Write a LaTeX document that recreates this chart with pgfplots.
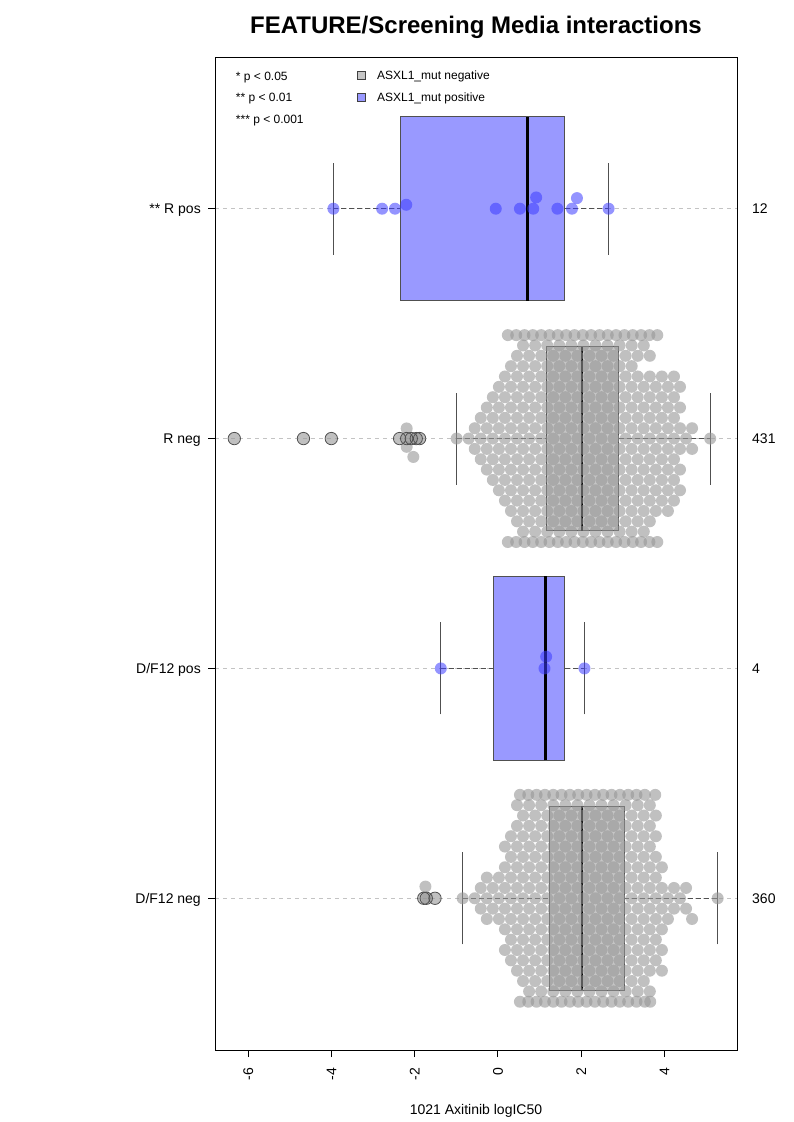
\documentclass[border=0pt]{standalone}
\usepackage{fontspec}
\setmainfont{Liberation Sans}
\usepackage{pgfplots}
\pgfplotsset{compat=1.18}

\definecolor{ptgrey}{RGB}{150,150,150}
\definecolor{boxgrey}{RGB}{198,198,198}
\definecolor{boxblue}{RGB}{153,153,255}
\definecolor{ptblue}{RGB}{60,60,255}
\definecolor{edgegrey}{RGB}{80,80,80}
\definecolor{gridgrey}{RGB}{195,195,195}

\pgfplotsset{
  whisk/.style={edgegrey, line width=0.8pt, dash pattern=on 5pt off 3pt, forget plot},
  cap/.style={edgegrey, line width=0.9pt, forget plot},
  greyswarm/.style={only marks, mark=*, mark size=6pt, mark options={draw=ptgrey, draw opacity=0, fill=ptgrey, fill opacity=0.6}, forget plot},
  blueswarm/.style={only marks, mark=*, mark size=6pt, mark options={draw=ptblue, draw opacity=0, fill=ptblue, fill opacity=0.55}, forget plot},
}

\begin{document}
\begin{tikzpicture}
\path[use as bounding box] (0pt,0pt) rectangle (793pt,1122pt);
\begin{axis}[
  at={(215pt,72pt)}, anchor=south west,
  width=522pt, height=993pt, scale only axis,
  xmin=-6.794, xmax=5.744, ymin=0.34, ymax=4.66,
  clip=false,
  axis line style={black, line width=0.9pt},
  tick pos=left, tick align=outside, major tick length=7pt,
  tick style={black, line width=0.8pt},
  xtick={-6,-4,-2,0,2,4}, xticklabels={-6,-4,-2,0,2,4},
  xticklabel style={yshift=-11pt, rotate=90, anchor=east, inner sep=0pt, text height=10pt, text depth=0pt, font=\fontsize{14}{16}\selectfont},
  ytick={1,2,3,4}, yticklabels={D/F12 neg, D/F12 pos, R neg, ** R pos},
  yticklabel style={anchor=east, inner sep=0pt, xshift=-7pt, text height=10pt, text depth=0pt, font=\fontsize{14}{16}\selectfont},
  ymajorgrids, major grid style={gridgrey, dash pattern=on 4pt off 4pt, line width=0.8pt},
  title={FEATURE/Screening Media interactions},
  title style={font=\fontsize{24}{28}\selectfont\bfseries, at={(axis description cs:0.5,1)}, anchor=base, yshift=17pt},
  xlabel={1021 Axitinib logIC50},
  xlabel style={font=\fontsize{14}{16}\selectfont, at={(axis description cs:0.5,0)}, anchor=base, yshift=-64pt},
  legend style={at={(axis description cs:0.2720,0.9859)}, anchor=north west, draw=none, fill=none,
    inner sep=0pt, outer sep=0pt, row sep=9.7pt, column sep=0pt,
    font=\fontsize{12}{14}\selectfont,
    cells={anchor=base west},
    nodes={inner sep=0pt, text height=9pt, text depth=3pt}},
]
% legend images first
\addlegendimage{legend image code/.code={\draw[fill=boxgrey, draw=black!75, line width=0.8pt] (0pt,0.3pt) rectangle (8pt,8.3pt); \path[draw=none, fill=none] (0pt,4pt) -- (19.7pt,4pt);}}
\addlegendentry{ASXL1\_mut negative}
\addlegendimage{legend image code/.code={\draw[fill=boxblue, draw=black!75, line width=0.8pt] (0pt,0.3pt) rectangle (8pt,8.3pt); \path[draw=none, fill=none] (0pt,4pt) -- (19.7pt,4pt);}}
\addlegendentry{ASXL1\_mut positive}

% ---- whiskers (dashed) and caps ----
% R pos: -3.95 -2.34 0.70 1.61 2.66
\addplot[whisk] coordinates {(-3.95,4) (-2.34,4)};
\addplot[whisk] coordinates {(1.61,4) (2.66,4)};
\addplot[cap] coordinates {(-3.95,3.8) (-3.95,4.2)};
\addplot[cap] coordinates {(2.66,3.8) (2.66,4.2)};
% R neg: -0.99 1.16 2.02 2.90 5.11
\addplot[whisk] coordinates {(-0.99,3) (1.16,3)};
\addplot[whisk] coordinates {(2.90,3) (5.11,3)};
\addplot[cap] coordinates {(-0.99,2.8) (-0.99,3.2)};
\addplot[cap] coordinates {(5.11,2.8) (5.11,3.2)};
% D/F12 pos: -1.37 -0.11 1.15 1.61 2.08
\addplot[whisk] coordinates {(-1.37,2) (-0.11,2)};
\addplot[whisk] coordinates {(1.61,2) (2.08,2)};
\addplot[cap] coordinates {(-1.37,1.8) (-1.37,2.2)};
\addplot[cap] coordinates {(2.08,1.8) (2.08,2.2)};
% D/F12 neg: -0.84 1.24 2.02 3.04 5.28
\addplot[whisk] coordinates {(-0.84,1) (1.24,1)};
\addplot[whisk] coordinates {(3.04,1) (5.28,1)};
\addplot[cap] coordinates {(-0.84,0.8) (-0.84,1.2)};
\addplot[cap] coordinates {(5.28,0.8) (5.28,1.2)};

% ---- boxes ----
\addplot[fill=boxblue, draw=edgegrey, line width=0.8pt, forget plot] coordinates {(-2.34,3.6) (1.61,3.6) (1.61,4.4) (-2.34,4.4)} --cycle;
\addplot[fill=boxgrey, draw=edgegrey, line width=0.8pt, forget plot] coordinates {(1.16,2.6) (2.90,2.6) (2.90,3.4) (1.16,3.4)} --cycle;
\addplot[fill=boxblue, draw=edgegrey, line width=0.8pt, forget plot] coordinates {(-0.11,1.6) (1.61,1.6) (1.61,2.4) (-0.11,2.4)} --cycle;
\addplot[fill=boxgrey, draw=edgegrey, line width=0.8pt, forget plot] coordinates {(1.24,0.6) (3.04,0.6) (3.04,1.4) (1.24,1.4)} --cycle;

% ---- R neg swarm (431) ----
\addplot[greyswarm] coordinates {
(0.24,3.45) (0.44,3.45) (0.64,3.45) (0.84,3.45) (1.04,3.45) (1.24,3.45) (1.44,3.45) (1.64,3.45) (1.84,3.45) (2.04,3.45) (2.24,3.45) (2.44,3.45) (2.64,3.45) (2.84,3.45) (3.04,3.45) (3.24,3.45) (3.44,3.45) (3.64,3.45) (3.83,3.45)
(0.605,3.405) (0.895,3.405) (1.185,3.405) (1.475,3.405) (1.765,3.405) (2.055,3.405) (2.345,3.405) (2.635,3.405) (2.925,3.405) (3.215,3.405) (3.505,3.405)
(0.46,3.36) (0.75,3.36) (1.04,3.36) (1.33,3.36) (1.62,3.36) (1.91,3.36) (2.20,3.36) (2.49,3.36) (2.78,3.36) (3.07,3.36) (3.36,3.36) (3.65,3.36)
(0.315,3.315) (0.605,3.315) (0.895,3.315) (1.185,3.315) (1.475,3.315) (1.765,3.315) (2.055,3.315) (2.345,3.315) (2.635,3.315) (2.925,3.315) (3.215,3.315)
(0.17,3.27) (0.46,3.27) (0.75,3.27) (1.04,3.27) (1.33,3.27) (1.62,3.27) (1.91,3.27) (2.20,3.27) (2.49,3.27) (2.78,3.27) (3.07,3.27) (3.36,3.27) (3.65,3.27) (3.94,3.27) (4.23,3.27)
(0.025,3.225) (0.315,3.225) (0.605,3.225) (0.895,3.225) (1.185,3.225) (1.475,3.225) (1.765,3.225) (2.055,3.225) (2.345,3.225) (2.635,3.225) (2.925,3.225) (3.215,3.225) (3.505,3.225) (3.795,3.225) (4.085,3.225) (4.375,3.225)
(-0.12,3.18) (0.17,3.18) (0.46,3.18) (0.75,3.18) (1.04,3.18) (1.33,3.18) (1.62,3.18) (1.91,3.18) (2.20,3.18) (2.49,3.18) (2.78,3.18) (3.07,3.18) (3.36,3.18) (3.65,3.18) (3.94,3.18) (4.23,3.18)
(-0.265,3.135) (0.025,3.135) (0.315,3.135) (0.605,3.135) (0.895,3.135) (1.185,3.135) (1.475,3.135) (1.765,3.135) (2.055,3.135) (2.345,3.135) (2.635,3.135) (2.925,3.135) (3.215,3.135) (3.505,3.135) (3.795,3.135) (4.085,3.135) (4.375,3.135)
(-0.41,3.09) (-0.12,3.09) (0.17,3.09) (0.46,3.09) (0.75,3.09) (1.04,3.09) (1.33,3.09) (1.62,3.09) (1.91,3.09) (2.20,3.09) (2.49,3.09) (2.78,3.09) (3.07,3.09) (3.36,3.09) (3.65,3.09) (3.94,3.09) (4.23,3.09)
(-0.555,3.045) (-0.265,3.045) (0.025,3.045) (0.315,3.045) (0.605,3.045) (0.895,3.045) (1.185,3.045) (1.475,3.045) (1.765,3.045) (2.055,3.045) (2.345,3.045) (2.635,3.045) (2.925,3.045) (3.215,3.045) (3.505,3.045) (3.795,3.045) (4.085,3.045) (4.375,3.045) (4.665,3.045)
(-0.99,3) (-0.70,3) (-0.41,3) (-0.12,3) (0.17,3) (0.46,3) (0.75,3) (1.04,3) (1.33,3) (1.62,3) (1.91,3) (2.20,3) (2.49,3) (2.78,3) (3.07,3) (3.36,3) (3.65,3) (3.94,3) (4.23,3) (4.52,3) (5.10,3)
(-0.555,2.955) (-0.265,2.955) (0.025,2.955) (0.315,2.955) (0.605,2.955) (0.895,2.955) (1.185,2.955) (1.475,2.955) (1.765,2.955) (2.055,2.955) (2.345,2.955) (2.635,2.955) (2.925,2.955) (3.215,2.955) (3.505,2.955) (3.795,2.955) (4.085,2.955) (4.375,2.955) (4.665,2.955)
(-0.41,2.91) (-0.12,2.91) (0.17,2.91) (0.46,2.91) (0.75,2.91) (1.04,2.91) (1.33,2.91) (1.62,2.91) (1.91,2.91) (2.20,2.91) (2.49,2.91) (2.78,2.91) (3.07,2.91) (3.36,2.91) (3.65,2.91) (3.94,2.91) (4.23,2.91)
(-0.265,2.865) (0.025,2.865) (0.315,2.865) (0.605,2.865) (0.895,2.865) (1.185,2.865) (1.475,2.865) (1.765,2.865) (2.055,2.865) (2.345,2.865) (2.635,2.865) (2.925,2.865) (3.215,2.865) (3.505,2.865) (3.795,2.865) (4.085,2.865) (4.375,2.865)
(-0.12,2.82) (0.17,2.82) (0.46,2.82) (0.75,2.82) (1.04,2.82) (1.33,2.82) (1.62,2.82) (1.91,2.82) (2.20,2.82) (2.49,2.82) (2.78,2.82) (3.07,2.82) (3.36,2.82) (3.65,2.82) (3.94,2.82) (4.23,2.82)
(0.025,2.775) (0.315,2.775) (0.605,2.775) (0.895,2.775) (1.185,2.775) (1.475,2.775) (1.765,2.775) (2.055,2.775) (2.345,2.775) (2.635,2.775) (2.925,2.775) (3.215,2.775) (3.505,2.775) (3.795,2.775) (4.085,2.775) (4.375,2.775)
(0.17,2.73) (0.46,2.73) (0.75,2.73) (1.04,2.73) (1.33,2.73) (1.62,2.73) (1.91,2.73) (2.20,2.73) (2.49,2.73) (2.78,2.73) (3.07,2.73) (3.36,2.73) (3.65,2.73) (3.94,2.73) (4.23,2.73)
(0.315,2.685) (0.605,2.685) (0.895,2.685) (1.185,2.685) (1.475,2.685) (1.765,2.685) (2.055,2.685) (2.345,2.685) (2.635,2.685) (2.925,2.685) (3.215,2.685) (3.505,2.685) (3.795,2.685) (4.085,2.685)
(0.46,2.64) (0.75,2.64) (1.04,2.64) (1.33,2.64) (1.62,2.64) (1.91,2.64) (2.20,2.64) (2.49,2.64) (2.78,2.64) (3.07,2.64) (3.36,2.64) (3.65,2.64)
(0.605,2.595) (0.895,2.595) (1.185,2.595) (1.475,2.595) (1.765,2.595) (2.055,2.595) (2.345,2.595) (2.635,2.595) (2.925,2.595) (3.215,2.595) (3.505,2.595)
(0.24,2.55) (0.44,2.55) (0.64,2.55) (0.84,2.55) (1.04,2.55) (1.24,2.55) (1.44,2.55) (1.64,2.55) (1.84,2.55) (2.04,2.55) (2.24,2.55) (2.44,2.55) (2.64,2.55) (2.84,2.55) (3.04,2.55) (3.24,2.55) (3.44,2.55) (3.64,2.55) (3.83,2.55)
(-6.33,3) (-4.67,3) (-4.00,3) (-2.36,3) (-2.19,3) (-2.08,3) (-1.96,3) (-1.88,3) (-2.19,3.044) (-2.19,2.964) (-2.03,2.92)
};

% ---- D/F12 neg swarm (360) ----
\addplot[greyswarm] coordinates {
(0.53,1.45) (0.73,1.45) (0.93,1.45) (1.13,1.45) (1.33,1.45) (1.53,1.45) (1.73,1.45) (1.93,1.45) (2.13,1.45) (2.33,1.45) (2.53,1.45) (2.73,1.45) (2.93,1.45) (3.13,1.45) (3.33,1.45) (3.53,1.45) (3.78,1.45)
(0.46,1.405) (0.75,1.405) (1.04,1.405) (1.33,1.405) (1.62,1.405) (1.91,1.405) (2.20,1.405) (2.49,1.405) (2.78,1.405) (3.07,1.405) (3.36,1.405) (3.65,1.405)
(0.605,1.36) (0.895,1.36) (1.185,1.36) (1.475,1.36) (1.765,1.36) (2.055,1.36) (2.345,1.36) (2.635,1.36) (2.925,1.36) (3.215,1.36) (3.505,1.36) (3.795,1.36)
(0.46,1.315) (0.75,1.315) (1.04,1.315) (1.33,1.315) (1.62,1.315) (1.91,1.315) (2.20,1.315) (2.49,1.315) (2.78,1.315) (3.07,1.315) (3.36,1.315) (3.65,1.315)
(0.315,1.27) (0.605,1.27) (0.895,1.27) (1.185,1.27) (1.475,1.27) (1.765,1.27) (2.055,1.27) (2.345,1.27) (2.635,1.27) (2.925,1.27) (3.215,1.27) (3.505,1.27) (3.795,1.27)
(0.17,1.225) (0.46,1.225) (0.75,1.225) (1.04,1.225) (1.33,1.225) (1.62,1.225) (1.91,1.225) (2.20,1.225) (2.49,1.225) (2.78,1.225) (3.07,1.225) (3.36,1.225) (3.65,1.225)
(0.315,1.18) (0.605,1.18) (0.895,1.18) (1.185,1.18) (1.475,1.18) (1.765,1.18) (2.055,1.18) (2.345,1.18) (2.635,1.18) (2.925,1.18) (3.215,1.18) (3.505,1.18) (3.795,1.18)
(0.17,1.135) (0.46,1.135) (0.75,1.135) (1.04,1.135) (1.33,1.135) (1.62,1.135) (1.91,1.135) (2.20,1.135) (2.49,1.135) (2.78,1.135) (3.07,1.135) (3.36,1.135) (3.65,1.135) (3.94,1.135)
(-0.265,1.09) (0.025,1.09) (0.315,1.09) (0.605,1.09) (0.895,1.09) (1.185,1.09) (1.475,1.09) (1.765,1.09) (2.055,1.09) (2.345,1.09) (2.635,1.09) (2.925,1.09) (3.215,1.09) (3.505,1.09) (3.795,1.09)
(-0.41,1.045) (-0.12,1.045) (0.17,1.045) (0.46,1.045) (0.75,1.045) (1.04,1.045) (1.33,1.045) (1.62,1.045) (1.91,1.045) (2.20,1.045) (2.49,1.045) (2.78,1.045) (3.07,1.045) (3.36,1.045) (3.65,1.045) (3.94,1.045) (4.23,1.045) (4.52,1.045) (-1.74,1.051)
(-0.845,1) (-0.555,1) (-0.265,1) (0.025,1) (0.315,1) (0.605,1) (0.895,1) (1.185,1) (1.475,1) (1.765,1) (2.055,1) (2.345,1) (2.635,1) (2.925,1) (3.215,1) (3.505,1) (3.795,1) (4.085,1) (4.375,1) (5.28,1) (-1.78,1) (-1.70,1) (-1.51,1)
(-0.41,0.955) (-0.12,0.955) (0.17,0.955) (0.46,0.955) (0.75,0.955) (1.04,0.955) (1.33,0.955) (1.62,0.955) (1.91,0.955) (2.20,0.955) (2.49,0.955) (2.78,0.955) (3.07,0.955) (3.36,0.955) (3.65,0.955) (3.94,0.955) (4.23,0.955) (4.52,0.955)
(-0.265,0.91) (0.025,0.91) (0.315,0.91) (0.605,0.91) (0.895,0.91) (1.185,0.91) (1.475,0.91) (1.765,0.91) (2.055,0.91) (2.345,0.91) (2.635,0.91) (2.925,0.91) (3.215,0.91) (3.505,0.91) (3.795,0.91) (4.085,0.91) (4.665,0.91)
(0.17,0.865) (0.46,0.865) (0.75,0.865) (1.04,0.865) (1.33,0.865) (1.62,0.865) (1.91,0.865) (2.20,0.865) (2.49,0.865) (2.78,0.865) (3.07,0.865) (3.36,0.865) (3.65,0.865) (3.94,0.865)
(0.315,0.82) (0.605,0.82) (0.895,0.82) (1.185,0.82) (1.475,0.82) (1.765,0.82) (2.055,0.82) (2.345,0.82) (2.635,0.82) (2.925,0.82) (3.215,0.82) (3.505,0.82) (3.795,0.82)
(0.17,0.775) (0.46,0.775) (0.75,0.775) (1.04,0.775) (1.33,0.775) (1.62,0.775) (1.91,0.775) (2.20,0.775) (2.49,0.775) (2.78,0.775) (3.07,0.775) (3.36,0.775) (3.65,0.775) (3.94,0.775)
(0.315,0.73) (0.605,0.73) (0.895,0.73) (1.185,0.73) (1.475,0.73) (1.765,0.73) (2.055,0.73) (2.345,0.73) (2.635,0.73) (2.925,0.73) (3.215,0.73) (3.505,0.73) (3.795,0.73)
(0.46,0.685) (0.75,0.685) (1.04,0.685) (1.33,0.685) (1.62,0.685) (1.91,0.685) (2.20,0.685) (2.49,0.685) (2.78,0.685) (3.07,0.685) (3.36,0.685) (3.65,0.685) (3.94,0.685)
(0.605,0.64) (0.895,0.64) (1.185,0.64) (1.475,0.64) (1.765,0.64) (2.055,0.64) (2.345,0.64) (2.635,0.64) (2.925,0.64) (3.215,0.64) (3.505,0.64)
(0.75,0.595) (1.04,0.595) (1.33,0.595) (1.62,0.595) (1.91,0.595) (2.20,0.595) (2.49,0.595) (2.78,0.595) (3.07,0.595) (3.36,0.595) (3.65,0.595)
(0.53,0.55) (0.73,0.55) (0.93,0.55) (1.13,0.55) (1.33,0.55) (1.53,0.55) (1.73,0.55) (1.93,0.55) (2.13,0.55) (2.33,0.55) (2.53,0.55) (2.73,0.55) (2.93,0.55) (3.13,0.55) (3.33,0.55) (3.53,0.55) (3.66,0.55)
};
% grey box outlines and medians on top
\addplot[draw=edgegrey, line width=0.8pt, forget plot] coordinates {(1.16,2.6) (2.90,2.6) (2.90,3.4) (1.16,3.4)} --cycle;
\addplot[draw=edgegrey, line width=0.8pt, forget plot] coordinates {(1.24,0.6) (3.04,0.6) (3.04,1.4) (1.24,1.4)} --cycle;
\addplot[black, line width=2pt, forget plot] coordinates {(2.02,2.6) (2.02,3.4)};
\addplot[black, line width=2pt, forget plot] coordinates {(2.02,0.6) (2.02,1.4)};

% ---- blue groups ----
% R pos (12)
\addplot[blueswarm] coordinates {(-3.95,4) (-2.78,4) (-2.47,4) (-2.20,4.017) (-0.05,4) (0.53,4) (0.85,4) (0.92,4.049) (1.43,4) (1.78,4) (1.90,4.046) (2.66,4)};
% D/F12 pos (4)
\addplot[blueswarm] coordinates {(-1.37,2) (1.12,2) (1.16,2.051) (2.08,2)};
\addplot[black, line width=3pt, forget plot] coordinates {(0.70,3.6) (0.70,4.4)};
\addplot[black, line width=3pt, forget plot] coordinates {(1.15,1.6) (1.15,2.4)};

% ---- outliers (open circles) ----
\addplot[only marks, mark=o, mark size=6.2pt, mark options={draw=edgegrey, line width=0.8pt}, forget plot] coordinates {(-6.33,3) (-4.67,3) (-4.00,3) (-2.36,3) (-2.19,3) (-2.08,3) (-1.96,3) (-1.88,3)};
\addplot[only marks, mark=o, mark size=6.2pt, mark options={draw=edgegrey, line width=0.8pt}, forget plot] coordinates {(-1.78,1) (-1.72,1) (-1.51,1)};

% ---- significance key ----
\node[anchor=base west, inner sep=0pt, font=\fontsize{12}{14}\selectfont] at (axis description cs:0.0397,0.9768) {* p < 0.05};
\node[anchor=base west, inner sep=0pt, font=\fontsize{12}{14}\selectfont] at (axis description cs:0.0397,0.9551) {** p < 0.01};
\node[anchor=base west, inner sep=0pt, font=\fontsize{12}{14}\selectfont] at (axis description cs:0.0397,0.9332) {*** p < 0.001};

% ---- group sizes on the right ----
\node[anchor=west, inner sep=0pt, xshift=15pt, text height=10pt, text depth=0pt, font=\fontsize{14}{16}\selectfont] at (axis cs:5.744,4) {12};
\node[anchor=west, inner sep=0pt, xshift=15pt, text height=10pt, text depth=0pt, font=\fontsize{14}{16}\selectfont] at (axis cs:5.744,3) {431};
\node[anchor=west, inner sep=0pt, xshift=15pt, text height=10pt, text depth=0pt, font=\fontsize{14}{16}\selectfont] at (axis cs:5.744,2) {4};
\node[anchor=west, inner sep=0pt, xshift=15pt, text height=10pt, text depth=0pt, font=\fontsize{14}{16}\selectfont] at (axis cs:5.744,1) {360};
\end{axis}
\end{tikzpicture}
\end{document}
